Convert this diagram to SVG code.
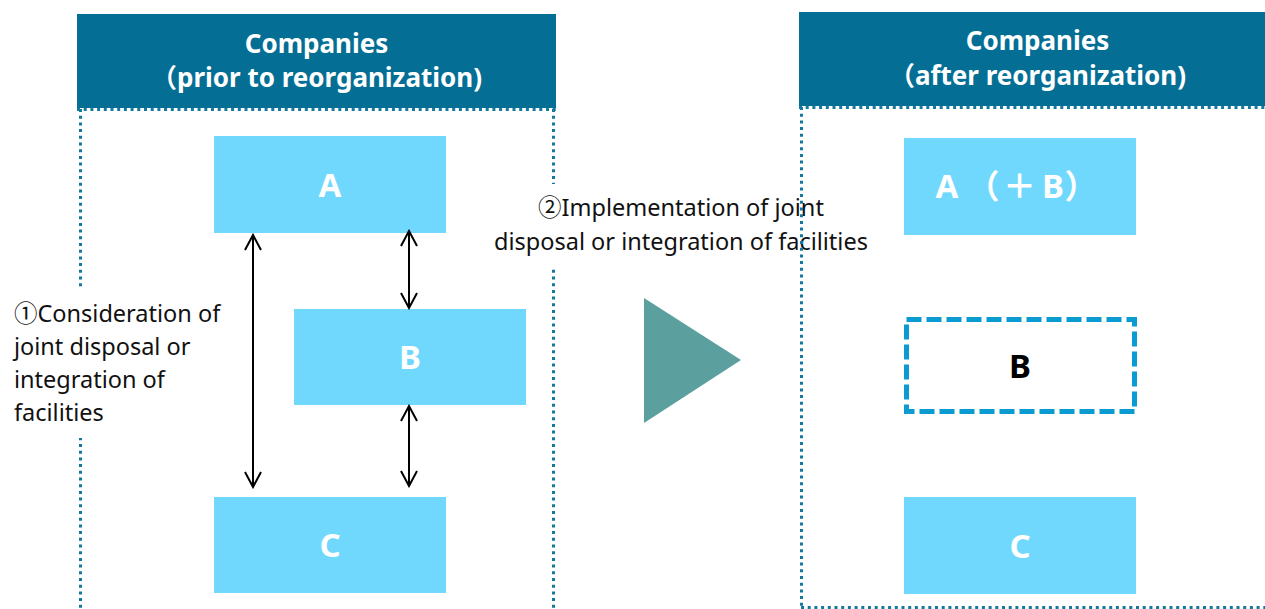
<svg xmlns="http://www.w3.org/2000/svg" width="1265" height="609" viewBox="0 0 1265 609">
<style>
.hdr{fill:#046E95}
.box{fill:#70D8FC}
.dot{fill:none;stroke:#15789D;stroke-width:3;stroke-dasharray:3 3.7}
.ht{font-family:"Noto Sans","Noto Sans CJK JP",sans-serif;font-weight:bold;font-size:26px;fill:#fff;text-anchor:middle}
.bl{font-family:"Noto Sans","Noto Sans CJK JP",sans-serif;font-weight:bold;font-size:33px;fill:#fff;text-anchor:middle}
.tx{font-family:"Noto Sans","Noto Sans CJK JP",sans-serif;font-size:23.5px;fill:#111}
.arr{fill:none;stroke:#000;stroke-width:2;marker-start:url(#ah);marker-end:url(#ah)}
</style>
<defs>
<marker id="ah" markerUnits="userSpaceOnUse" viewBox="-18 -10 20 20" markerWidth="20" markerHeight="20" refX="0" refY="0" orient="auto-start-reverse">
<path d="M-15,-8 L0,0 L-15,8" fill="none" stroke="#000" stroke-width="2"/>
</marker>
</defs>
<rect width="1265" height="609" fill="#fff"/>

<g id="panel-before">
<path class="dot" d="M77,109.5 H556 M80.5,109 V609 M553.5,109 V609"/>
<rect class="hdr" x="77" y="14" width="479" height="94"/>
<text class="ht" x="316.5" y="53">Companies</text>
<text class="ht" x="316.5" y="87">（prior to reorganization)</text>
</g>

<g id="label-1">
<rect x="8" y="289" width="228" height="149" fill="#fff"/>
<text class="tx" x="14" y="322">①Consideration of</text>
<text class="tx" x="14" y="355">joint disposal or</text>
<text class="tx" x="14" y="388">integration of</text>
<text class="tx" x="14" y="421">facilities</text>
</g>

<g id="node-A">
<rect class="box" x="214" y="136" width="232" height="97"/>
<text class="bl" x="330" y="197">A</text>
</g>
<g id="node-B">
<rect class="box" x="294" y="309" width="232" height="96"/>
<text class="bl" x="410" y="369">B</text>
</g>
<g id="node-C">
<rect class="box" x="214" y="497" width="232" height="96"/>
<text class="bl" x="330" y="557">C</text>
</g>

<g id="connectors">
<line class="arr" x1="253" y1="235" x2="253" y2="487"/>
<line class="arr" x1="409" y1="231" x2="409" y2="308"/>
<line class="arr" x1="409" y1="406" x2="409" y2="486"/>
</g>

<g id="label-2">
<rect x="492" y="184" width="300" height="83" fill="#fff"/>
<text class="tx" x="681" y="216" text-anchor="middle">②Implementation of joint</text>
<text class="tx" x="681" y="250" text-anchor="middle">disposal or integration of facilities</text>
</g>

<g id="transition-arrow">
<polygon points="644,298 741,360 644,423" fill="#5BA09F"/>
</g>

<g id="panel-after">
<path class="dot" d="M799,107.5 H1265 M801.5,107 V607.5 M801,607.5 H1265"/>
<rect class="hdr" x="799" y="12" width="480" height="94"/>
<text class="ht" x="1037.5" y="50">Companies</text>
<text class="ht" x="1037.5" y="85">（after reorganization)</text>
</g>

<g id="node-AB">
<rect class="box" x="904" y="138" width="232" height="97"/>
<text class="bl" y="198"><tspan x="947">A</tspan><tspan x="983">（</tspan><tspan x="1019.5">＋</tspan><tspan x="1053">B</tspan><tspan x="1081">）</tspan></text>
</g>
<g id="node-B-removed">
<rect x="906.5" y="319.5" width="228" height="92" fill="none" stroke="#0A9BD3" stroke-width="5" stroke-dasharray="15 5"/>
<text class="bl" x="1020" y="378" style="fill:#000">B</text>
</g>
<g id="node-C2">
<rect class="box" x="904" y="497" width="232" height="97"/>
<text class="bl" x="1020" y="558">C</text>
</g>
</svg>
